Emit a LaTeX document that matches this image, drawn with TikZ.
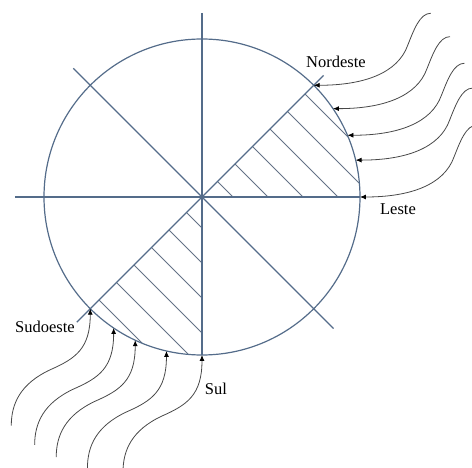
\documentclass[tikz,border=0pt]{standalone}
\usepackage{fontspec}
\setmainfont{Liberation Serif}
\usepackage{xcolor}
\usetikzlibrary{arrows.meta, calc}

\definecolor{rimcol}{RGB}{84,108,138}
\definecolor{hatchcol}{RGB}{100,114,134}
\definecolor{wavecol}{RGB}{72,72,72}

\begin{document}
\begin{tikzpicture}[
    x=1pt, y=1pt,
    rim/.style   = {draw=rimcol, line width=1.2pt},
    axis/.style  = {draw=rimcol, line width=1.2pt},
    hatch/.style = {draw=hatchcol, line width=1pt},
    wave/.style  = {draw=wavecol, line width=0.8pt,
                    -{Latex[length=6pt, width=5pt, color=black]}},
    lbl/.style   = {inner sep=0pt, font=\fontsize{16.5}{19}\selectfont}
  ]
  \useasboundingbox (-202,-271) rectangle (270,197);

  % centre and axis ends
  \coordinate (c)   at (0,0);
  \coordinate (top) at (0,184);
  \coordinate (bot) at (270:158);
  \coordinate (lft) at (-187,0);
  \coordinate (rgt) at (0:158);
  \coordinate (nw)  at (135:182);
  \coordinate (se)  at (-45:186);
  \coordinate (nee) at (45:172);
  \coordinate (sww) at (225:177);

  % hatched sectors
  \begin{scope}
    \clip (c) circle (158);
    \foreach \a in {31,66,...,206} {
      \draw[hatch] (\a/2,\a/2) -- (\a,0);
      \draw[hatch] (-\a/2,-\a/2) -- (0,-\a);
    }
  \end{scope}

  \draw[rim] (c) circle (158);
  \draw[axis] (top) -- (bot);
  \draw[axis] (lft) -- (rgt);
  \draw[axis] (nw) -- (se);
  \draw[axis] (nee) -- (sww);

  % waves from the north-east
  \foreach \ang [count=\i] in {45,34,23,13.5,0} {
    \coordinate (ne\i) at (\ang:158);
    \draw[wave] ($(ne\i)+(117,72)$) .. controls +(-11,0) and +(6,15) .. ++(-23,-32)
                .. controls +(-10,-28) and +(50,0) .. (ne\i);
  }

  % waves from the south-west
  \foreach \ang [count=\i] in {225,236,245,257,270} {
    \coordinate (sw\i) at (\ang:158);
    \draw[wave] ($(sw\i)+(-79,-117)$) .. controls +(0,22) and +(-30,-14) .. ++(39,56)
                .. controls +(25,11) and +(0,-40) .. (sw\i);
  }

  \node[lbl] (nordeste) at (134,135)   {Nordeste};
  \node[lbl] (leste)    at (196,-12)   {Leste};
  \node[lbl] (sudoeste) at (-157,-130) {Sudoeste};
  \node[lbl] (sul)      at (14,-192)   {Sul};
\end{tikzpicture}
\end{document}
